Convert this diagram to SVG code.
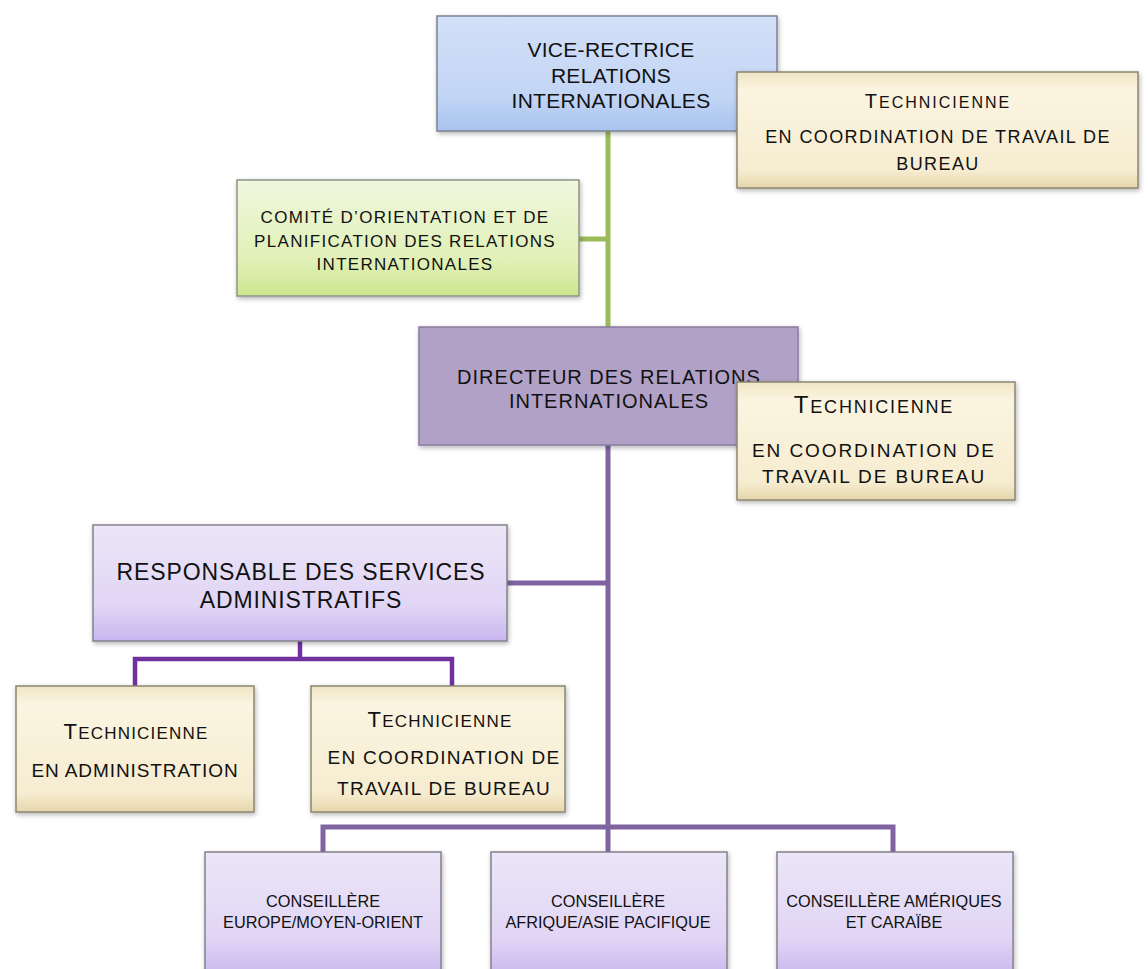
<svg xmlns="http://www.w3.org/2000/svg" width="1148" height="969" viewBox="0 0 1148 969">
<style>
text{font-family:"Liberation Sans",Arial,sans-serif;fill:#111;text-anchor:middle}
.box{stroke-width:1.5;filter:url(#sh)}
.beige{fill:url(#gBeige);stroke:#8a8672}
.lav{fill:url(#gLav);stroke:#85808f}
.green{fill:url(#gGreen);stroke:#8e9585}
.blue{fill:url(#gBlue);stroke:#7b8392}
.dir{fill:#B2A1C7;stroke:#8a7aa0}
.cg{stroke:#9BBB59;stroke-width:5;fill:none}
.cp{stroke:#8064A2;stroke-width:5;fill:none}
.cv{stroke:#7030A0;stroke-width:4.5;fill:none}
</style>
<defs>
<filter id="sh" x="-10%" y="-10%" width="125%" height="130%">
<feGaussianBlur in="SourceAlpha" stdDeviation="2.5"/>
<feOffset dx="1" dy="2" result="o"/>
<feComponentTransfer><feFuncA type="linear" slope="0.3"/></feComponentTransfer>
<feMerge><feMergeNode/><feMergeNode in="SourceGraphic"/></feMerge>
</filter>
<linearGradient id="gBeige" x1="0" y1="0" x2="0" y2="1"><stop offset="0" stop-color="#efe4c4"/><stop offset="0.15" stop-color="#fbf4e0"/><stop offset="0.85" stop-color="#f6ecd0"/><stop offset="1" stop-color="#e6d6ac"/></linearGradient>
<linearGradient id="gLav" x1="0" y1="0" x2="0" y2="1"><stop offset="0" stop-color="#ece6f7"/><stop offset="0.7" stop-color="#e0d5f5"/><stop offset="1" stop-color="#c7b6ee"/></linearGradient>
<linearGradient id="gGreen" x1="0" y1="0" x2="0" y2="1"><stop offset="0" stop-color="#f0f7de"/><stop offset="0.7" stop-color="#e0f0b6"/><stop offset="1" stop-color="#cde68e"/></linearGradient>
<linearGradient id="gBlue" x1="0" y1="0" x2="0" y2="1"><stop offset="0" stop-color="#d3e0f8"/><stop offset="0.7" stop-color="#c2d5f5"/><stop offset="1" stop-color="#a8c3ef"/></linearGradient>
</defs>

<g id="connectors">
<path class="cg" d="M608,131 V328"/>
<path class="cg" d="M579,239 H608"/>
<path class="cp" d="M608,445 V852"/>
<path class="cp" d="M507,583 H608"/>
<path class="cp" d="M323,852 V827 H893 V852"/>
<path class="cv" d="M300,641 V659"/>
<path class="cv" d="M135,686 V659 H452 V686"/>
</g>

<g id="vice-rectrice">
<rect class="box blue" x="437" y="16" width="340" height="115"/>
<text font-size="21" letter-spacing="0.3"><tspan x="611" y="57">VICE-RECTRICE</tspan><tspan x="611" y="83">RELATIONS</tspan><tspan x="611" y="108">INTERNATIONALES</tspan></text>
</g>

<g id="technicienne-1">
<rect class="box beige" x="737" y="72" width="401" height="116"/>
<text y="108" letter-spacing="2" x="938"><tspan font-size="20">T</tspan><tspan font-size="16">ECHNICIENNE</tspan></text>
<text font-size="18" letter-spacing="1.4"><tspan x="938" y="143">EN COORDINATION DE TRAVAIL DE</tspan><tspan x="938" y="170">BUREAU</tspan></text>
</g>

<g id="comite">
<rect class="box green" x="237" y="180" width="342" height="116"/>
<text font-size="17" letter-spacing="1.3"><tspan x="405" y="223">COMITÉ D’ORIENTATION ET DE</tspan><tspan x="405" y="247">PLANIFICATION DES RELATIONS</tspan><tspan x="405" y="270">INTERNATIONALES</tspan></text>
</g>

<g id="directeur">
<rect class="box dir" x="419" y="327" width="379" height="118"/>
<text font-size="20" letter-spacing="1"><tspan x="609" y="384">DIRECTEUR DES RELATIONS</tspan><tspan x="609" y="408">INTERNATIONALES</tspan></text>
</g>

<g id="technicienne-2">
<rect class="box beige" x="737" y="382" width="278" height="118"/>
<text y="413" x="874" letter-spacing="1.8"><tspan font-size="24">T</tspan><tspan font-size="18">ECHNICIENNE</tspan></text>
<text font-size="19" letter-spacing="1.9"><tspan x="874" y="457">EN COORDINATION DE</tspan><tspan x="874" y="483">TRAVAIL DE BUREAU</tspan></text>
</g>

<g id="responsable">
<rect class="box lav" x="93" y="525" width="414" height="116"/>
<text font-size="23" letter-spacing="0.9"><tspan x="301" y="580">RESPONSABLE DES SERVICES</tspan><tspan x="301" y="608">ADMINISTRATIFS</tspan></text>
</g>

<g id="technicienne-admin">
<rect class="box beige" x="16" y="686" width="238" height="126"/>
<text y="739" x="136" letter-spacing="1.2"><tspan font-size="22">T</tspan><tspan font-size="17">ECHNICIENNE</tspan></text>
<text font-size="19" letter-spacing="0.9" x="135" y="777">EN ADMINISTRATION</text>
</g>

<g id="technicienne-3">
<rect class="box beige" x="311" y="686" width="254" height="126"/>
<text y="727" x="440" letter-spacing="1.2"><tspan font-size="22">T</tspan><tspan font-size="17">ECHNICIENNE</tspan></text>
<text font-size="19" letter-spacing="1.3"><tspan x="444" y="764">EN COORDINATION DE</tspan><tspan x="444" y="795">TRAVAIL DE BUREAU</tspan></text>
</g>

<g id="conseillere-europe">
<rect class="box lav" x="205" y="852" width="236" height="125"/>
<text font-size="16.3"><tspan x="323" y="907">CONSEILLÈRE</tspan><tspan x="323" y="928">EUROPE/MOYEN-ORIENT</tspan></text>
</g>

<g id="conseillere-afrique">
<rect class="box lav" x="491" y="852" width="236" height="125"/>
<text font-size="16.3"><tspan x="608" y="907">CONSEILLÈRE</tspan><tspan x="608" y="928">AFRIQUE/ASIE PACIFIQUE</tspan></text>
</g>

<g id="conseillere-ameriques">
<rect class="box lav" x="777" y="852" width="236" height="125"/>
<text font-size="16.3"><tspan x="894" y="907">CONSEILLÈRE AMÉRIQUES</tspan><tspan x="894" y="928">ET CARAÏBE</tspan></text>
</g>
</svg>
